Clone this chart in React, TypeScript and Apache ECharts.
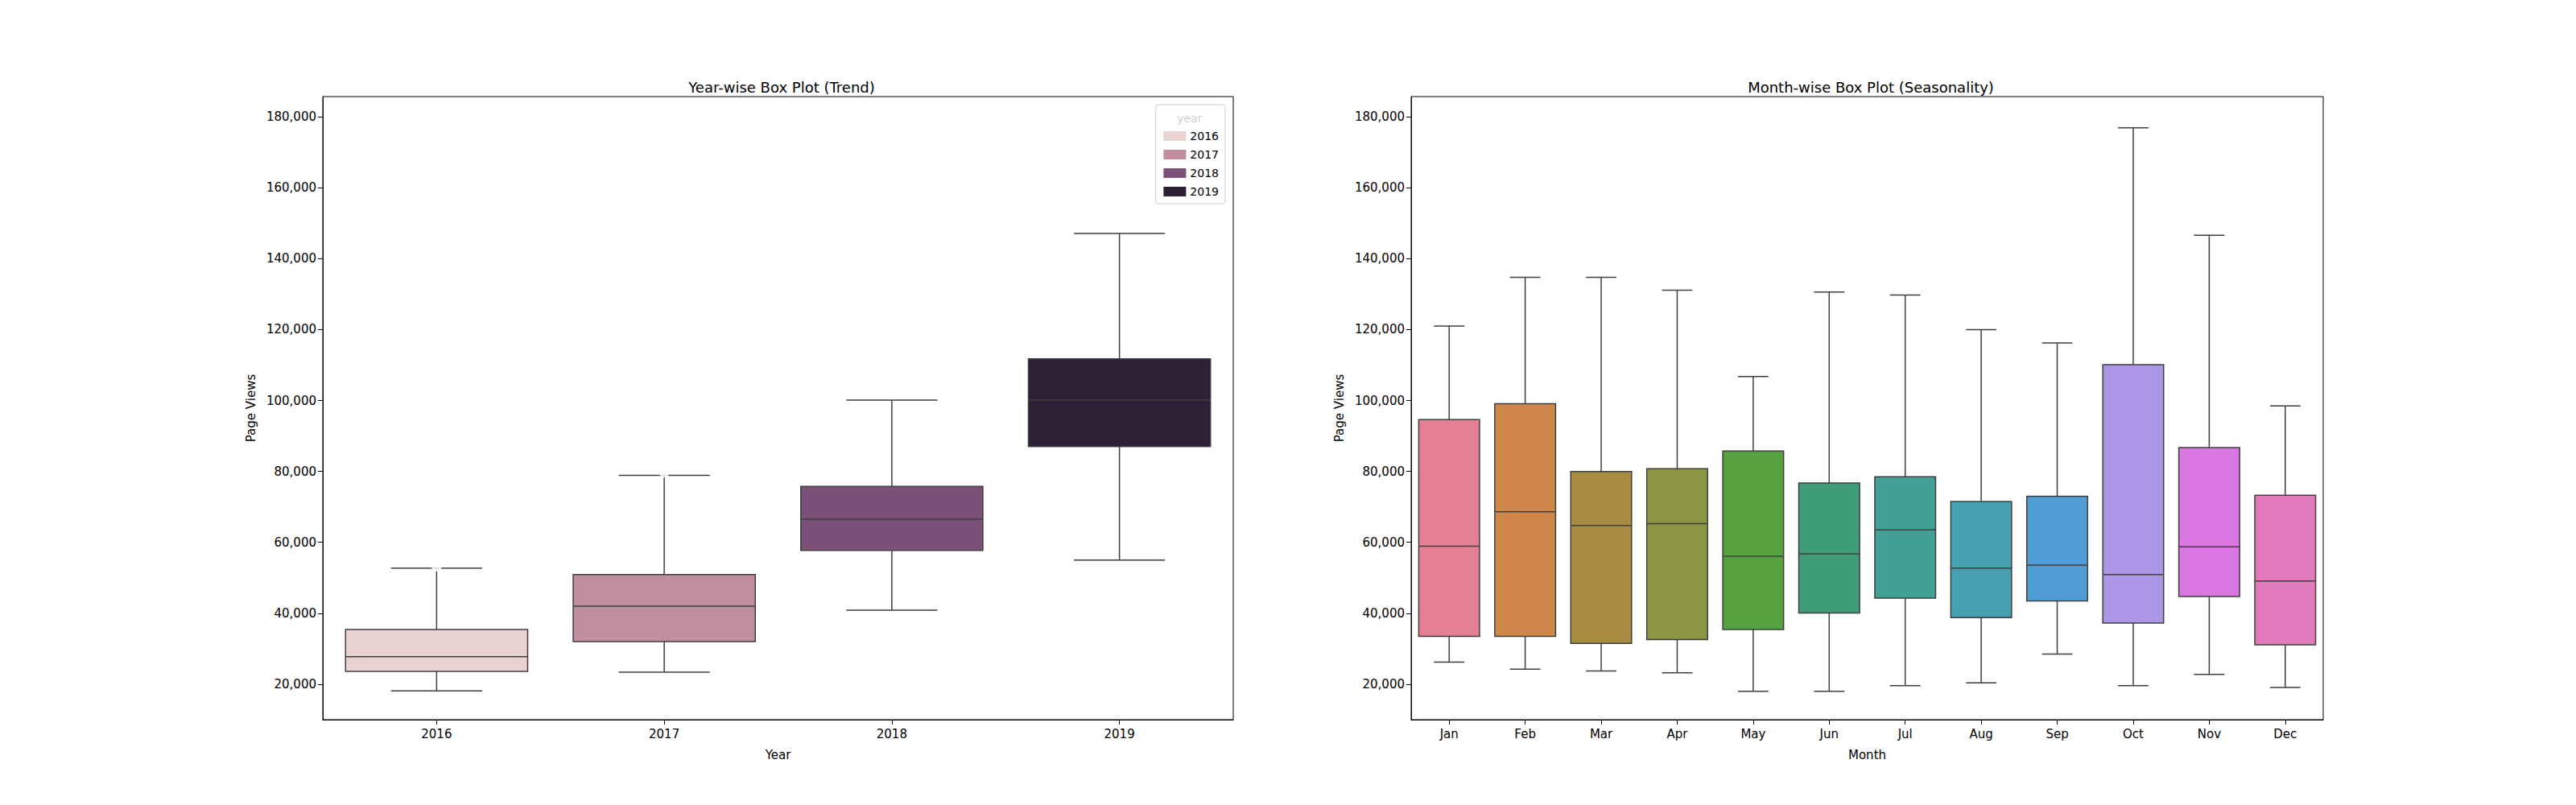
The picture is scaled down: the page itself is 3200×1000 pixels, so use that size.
import React, { useEffect, useRef } from 'react';
import * as echarts from 'echarts';

// box stats: [low whisker, Q1, median, Q3, high whisker]
const years = ['2016', '2017', '2018', '2019'];
const yearColors = ['#e8d3d0', '#c18e9e', '#7c5177', '#2d2037'];
const yearBoxes = [
  [18100, 23600, 27750, 35400, 52750],
  [23400, 32000, 42000, 50900, 78900],
  [40900, 57750, 66500, 75750, 100100],
  [55000, 87000, 100100, 111750, 147100],
];
const yearOutliers = [
  [159100, 117900, 70750, 58900, 53250],
  [136750, 113100, 84100, 83100, 79750],
  [176400, 174750, 170000, 168750, 163750, 155000, 153500, 150100, 140250, 138500, 131900, 130750, 120900, 108750, 106100, 105750, 29900, 25900],
  [177600, 176900, 174100, 171600, 169500, 168900, 168250, 160750, 158500, 157600, 151900, 151500],
];

const months = ['Jan', 'Feb', 'Mar', 'Apr', 'May', 'Jun', 'Jul', 'Aug', 'Sep', 'Oct', 'Nov', 'Dec'];
const monthColors = ['#e58094', '#d0874a', '#a98c42', '#8c9642', '#57a240', '#3f9c78', '#42a097', '#47a0b1', '#519ed7', '#ac96e6', '#da77e0', '#e17abb'];
const monthBoxes = [
  [26250, 33500, 58900, 94600, 121000],
  [24250, 33500, 68600, 99100, 134750],
  [23750, 31500, 64750, 80000, 134750],
  [23250, 32600, 65250, 80750, 131100],
  [18000, 35400, 56100, 85750, 106750],
  [18000, 40100, 56750, 76750, 130600],
  [19600, 44250, 63500, 78500, 129750],
  [20400, 38750, 52750, 71500, 120000],
  [28500, 43500, 53600, 73000, 116250],
  [19600, 37250, 50900, 110100, 176900],
  [22750, 44750, 58750, 86750, 146600],
  [19100, 31100, 49100, 73250, 98500],
];
const monthOutliers = [
  [], [], [], [], [], [],
  [131400],
  [151600, 145750, 141000, 130250, 122600, 122400],
  [174100, 146900, 130250],
  [],
  [177600, 171600, 169400, 168500, 159100, 151900],
  [158500, 143000],
];

const yTicks = [20000, 40000, 60000, 80000, 100000, 120000, 140000, 160000, 180000];
const LINE = '#3f3f3f';

function renderBox(color: string) {
  return (params: any, api: any) => {
    const x = api.value(0);
    const lo = api.coord([x, api.value(1)]);
    const q1 = api.coord([x, api.value(2)]);
    const md = api.coord([x, api.value(3)]);
    const q3 = api.coord([x, api.value(4)]);
    const hi = api.coord([x, api.value(5)]);
    const bw = api.size([1, 0])[0] * 0.8;
    const cx = lo[0];
    const ls = { stroke: LINE, lineWidth: 1.5 };
    return {
      type: 'group',
      children: [
        { type: 'line', shape: { x1: cx, y1: q1[1], x2: cx, y2: lo[1] }, style: ls },
        { type: 'line', shape: { x1: cx, y1: q3[1], x2: cx, y2: hi[1] }, style: ls },
        { type: 'line', shape: { x1: cx - bw / 4, y1: lo[1], x2: cx + bw / 4, y2: lo[1] }, style: ls },
        { type: 'line', shape: { x1: cx - bw / 4, y1: hi[1], x2: cx + bw / 4, y2: hi[1] }, style: ls },
        { type: 'rect', shape: { x: cx - bw / 2, y: q3[1], width: bw, height: q1[1] - q3[1] }, style: { fill: color, stroke: LINE, lineWidth: 1.5 } },
        { type: 'line', shape: { x1: cx - bw / 2, y1: md[1], x2: cx + bw / 2, y2: md[1] }, style: ls },
      ],
    };
  };
}

const font = 'DejaVu Sans';

function yAxis(gridIndex: number) {
  return {
    type: 'value', gridIndex, min: 10000, max: 185700,
    name: 'Page Views', nameLocation: 'middle', nameGap: 82,
    nameTextStyle: { fontFamily: font, fontSize: 15, color: '#000' },
    axisLine: { show: true, lineStyle: { color: '#000' } },
    axisTick: { show: true, customValues: yTicks, length: 6, lineStyle: { color: '#000' } },
    axisLabel: { customValues: yTicks, fontFamily: font, fontSize: 15, color: '#000' },
    splitLine: { show: false },
  };
}

function xAxis(gridIndex: number, data: string[], name: string) {
  return {
    type: 'category', gridIndex, data,
    name, nameLocation: 'middle', nameGap: 36,
    nameTextStyle: { fontFamily: font, fontSize: 15, color: '#000' },
    axisLine: { show: true, lineStyle: { color: '#000' } },
    axisTick: { show: true, alignWithLabel: true, length: 6, lineStyle: { color: '#000' } },
    axisLabel: { fontFamily: font, fontSize: 15, color: '#000', margin: 10 },
    splitLine: { show: false },
  };
}

export default function App() {
  const ref = useRef<HTMLDivElement>(null);

  useEffect(() => {
    document.body.style.margin = '0';
    if (!ref.current) return;
    const chart = echarts.init(ref.current, null, { renderer: 'svg' });

    const series: any[] = [];
    years.forEach((y, i) => {
      series.push({
        type: 'custom', name: y, xAxisIndex: 0, yAxisIndex: 0,
        itemStyle: { color: yearColors[i], borderColor: LINE },
        renderItem: renderBox(yearColors[i]),
        data: [[i, ...yearBoxes[i]]],
      });
    });
    series.push({
      type: 'scatter', xAxisIndex: 0, yAxisIndex: 0, symbol: 'emptyCircle', symbolSize: 11,
      itemStyle: { color: '#fff', borderColor: '#222', borderWidth: 1.3 },
      data: yearOutliers.flatMap((arr, i) => arr.map(v => [i, v])),
    });
    months.forEach((m, i) => {
      series.push({
        type: 'custom', xAxisIndex: 1, yAxisIndex: 1,
        renderItem: renderBox(monthColors[i]),
        data: [[i, ...monthBoxes[i]]],
      });
    });
    series.push({
      type: 'scatter', xAxisIndex: 1, yAxisIndex: 1, symbol: 'emptyCircle', symbolSize: 11,
      itemStyle: { color: '#fff', borderColor: '#222', borderWidth: 1.3 },
      data: monthOutliers.flatMap((arr, i) => arr.map(v => [i, v])),
    });

    chart.setOption({
      animation: false,
      textStyle: { fontFamily: font },
      title: [
        { text: 'Year-wise Box Plot (Trend)', left: 966, top: 94, textAlign: 'center', textStyle: { fontFamily: font, fontSize: 18, fontWeight: 'normal', color: '#000' } },
        { text: 'Month-wise Box Plot (Seasonality)', left: 2319, top: 94, textAlign: 'center', textStyle: { fontFamily: font, fontSize: 18, fontWeight: 'normal', color: '#000' } },
      ],
      grid: [
        { left: 401, right: 1668, top: 120, height: 774, show: true, borderColor: '#000', borderWidth: 1, backgroundColor: '#fff' },
        { left: 1753, right: 314, top: 120, height: 774, show: true, borderColor: '#000', borderWidth: 1, backgroundColor: '#fff' },
      ],
      xAxis: [xAxis(0, years, 'Year'), xAxis(1, months, 'Month')],
      yAxis: [yAxis(0), yAxis(1)],
      legend: {
        data: years, orient: 'vertical', right: 1678, top: 130,
        icon: 'rect', itemWidth: 28, itemHeight: 12, itemGap: 9,
        padding: [32, 8, 8, 10], borderColor: '#ccc', borderWidth: 1, borderRadius: 4,
        backgroundColor: 'rgba(255,255,255,0.8)',
        textStyle: { fontFamily: font, fontSize: 14, color: '#000' },
      },
      graphic: [
        { type: 'text', left: 1462, top: 140, style: { text: 'year', fontFamily: font, fontSize: 14, fill: '#000' } },
      ],
      series,
    });

    return () => chart.dispose();
  }, []);

  return <div ref={ref} style={{ width: 3200, height: 1000 }} />;
}
